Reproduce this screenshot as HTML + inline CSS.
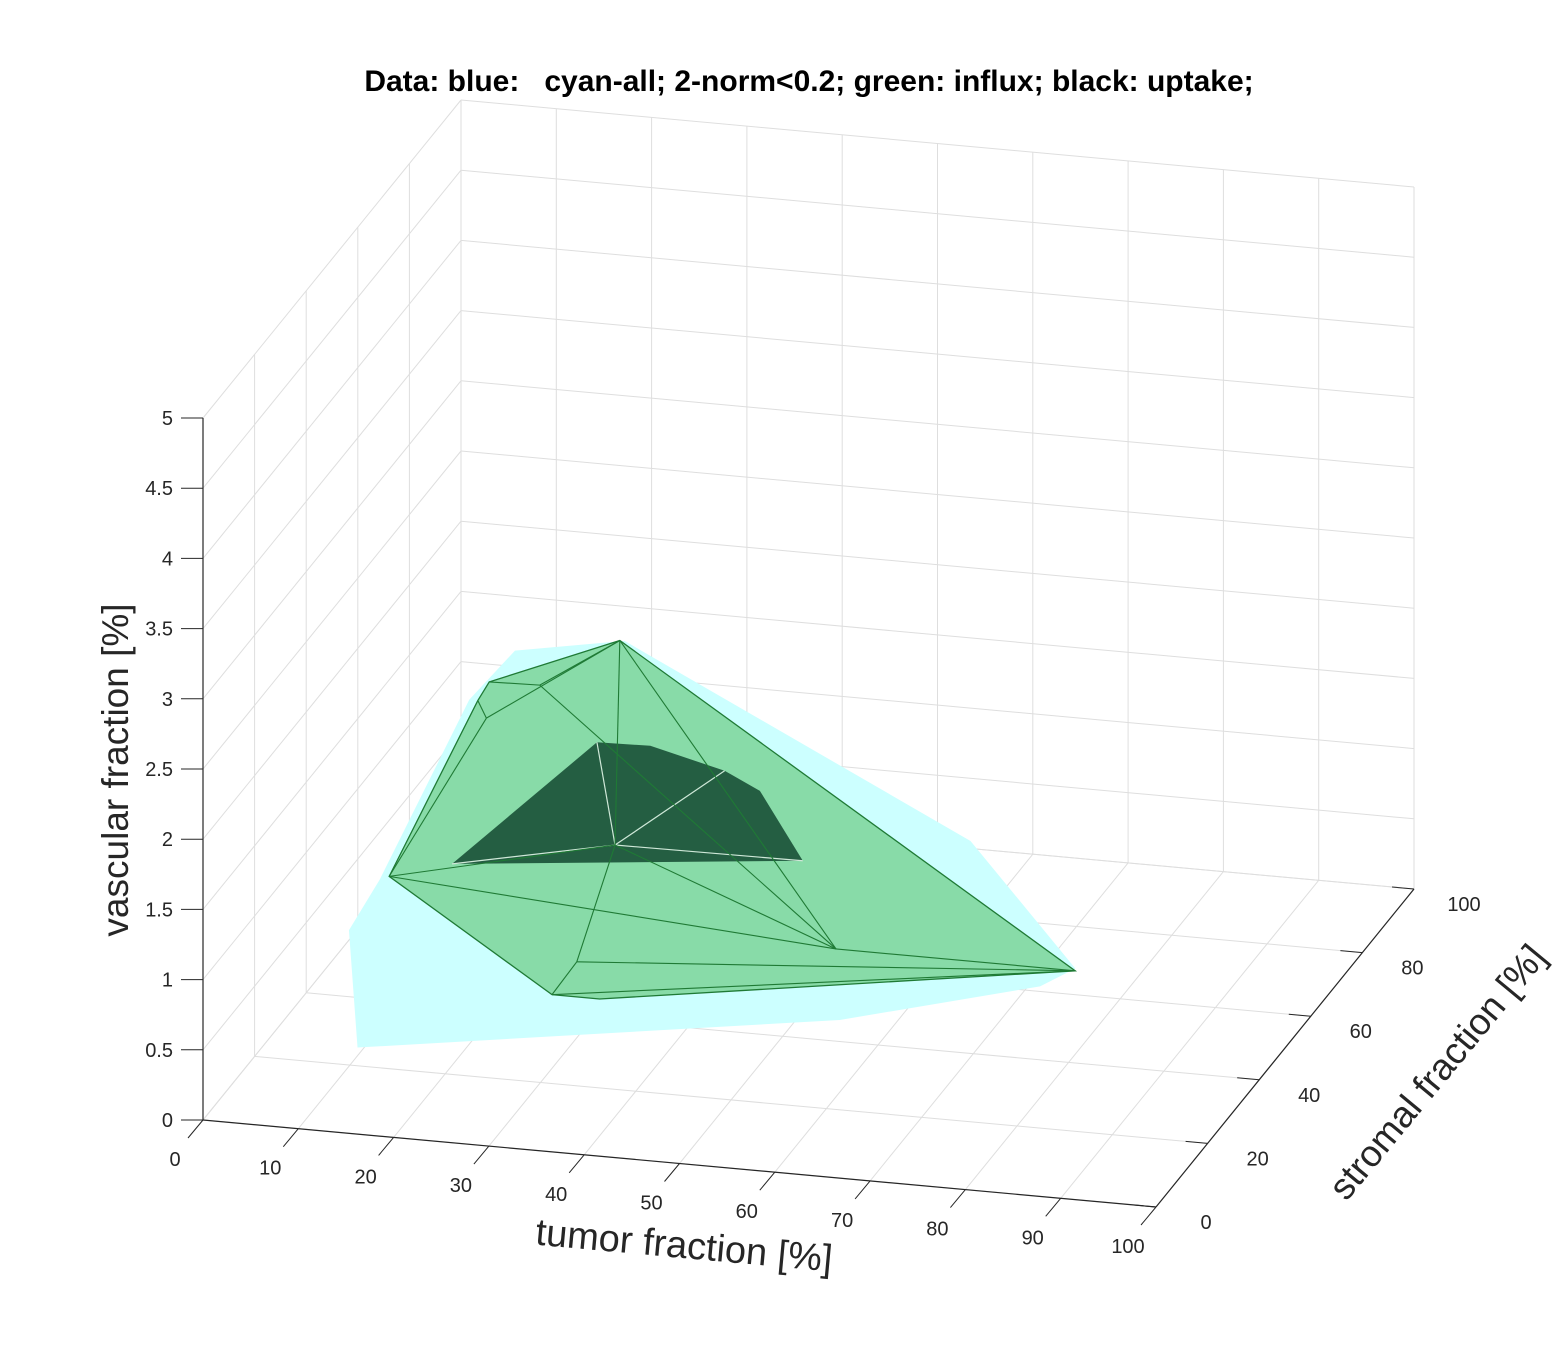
<!DOCTYPE html>
<html><head><meta charset="utf-8"><style>
html,body{margin:0;padding:0;background:#fff;}
svg{display:block;font-family:"Liberation Sans",sans-serif;}
</style></head><body>
<svg id="chart" width="1563" height="1354" viewBox="0 0 1563 1354" xmlns="http://www.w3.org/2000/svg">
<text x="809" y="91" text-anchor="middle" font-size="30" font-weight="bold" fill="#000" style="white-space:pre" xml:space="preserve">Data: blue:   cyan-all; 2-norm&lt;0.2; green: influx; black: uptake;</text>
<g id="grid"></g><g id="shapes"></g><g id="axes"></g>
<text x="683" y="1258" text-anchor="middle" font-size="38" fill="#262626" transform="rotate(5.2 683 1258)">tumor fraction [%]</text>
<text x="128" y="770" text-anchor="middle" font-size="37" fill="#262626" transform="rotate(-90 128 770)">vascular fraction [%]</text>
<text x="1447" y="1080" text-anchor="middle" font-size="37" fill="#262626" transform="rotate(-50.5 1447 1080)">stromal fraction [%]</text>
</svg>
<script>
const xTicks=[0,10,20,30,40,50,60,70,80,90,100];
const yTicks=[0,20,40,60,80,100];
const zTicks=[0,0.5,1,1.5,2,2.5,3,3.5,4,4.5,5];
const zTickLabels=["0","0.5","1","1.5","2","2.5","3","3.5","4","4.5","5"];
// cyan hull (tumor, stromal, vascular)
const cyanTumor=[19.2,30.7,67.0,78.0,74.3,61.4,10.8,9.9,5.0,14.4];
const cyanStromal=[50,50,50,50,50,20,20,20,50,50];
const cyanVascular=[2.33,2.47,1.27,0.43,0.28,0.64,0.13,0.96,0.61,1.95];
// green hull vertices: A,B,C,D,E,F,G,H,I,P,J,K
const greenTumor=[30.2,16.5,15.3,6.0,28.5,33.5,83.4,58.3,31.1,29.7,21.8,16.2];
const greenStromal=[50,50,50,50,30,30,30,30,30,50,50,50];
const greenVascular=[2.47,2.09,1.95,0.64,0.39,0.39,0.90,0.90,0.64,1.01,2.10,1.83];
const greenOutline=[0,1,2,3,4,5,6];
const greenEdges=[[0,10],[10,1],[0,9],[0,11],[11,3],[2,11],[9,3],[9,8],[9,7],[7,6],[3,7],[8,4],[8,6],[0,7],[10,7],[4,6]];
// dark uptake hull
const darkTumor=[27.8,33.4,41.2,44.9,49.4,12.6];
const darkStromal=[50,50,50,50,50,50];
const darkVascular=[1.73,1.74,1.61,1.49,1.02,0.77];
const darkCenter=[29.7,50,1.01];

const O=[203,1120],XV=[953,87],YV=[258,-318],ZH=702;
function P(x,y,z){return [O[0]+x/100*XV[0]+y/100*YV[0], O[1]+x/100*XV[1]+y/100*YV[1]-z/5*ZH];}
const NS="http://www.w3.org/2000/svg";
function mk(g,tag,at){const e=document.createElementNS(NS,tag);for(const k in at)e.setAttribute(k,at[k]);document.getElementById(g).appendChild(e);return e;}
function line(g,a,b,st,w){return mk(g,'line',{x1:a[0],y1:a[1],x2:b[0],y2:b[1],stroke:st,'stroke-width':w});}
const gc='#dedede';
for(const x of xTicks){let l=line('grid',P(x,0,0),P(x,100,0),gc,1);
 l=line('grid',P(x,100,0),P(x,100,5),gc,1);}
for(const y of yTicks){let l=line('grid',P(0,y,0),P(100,y,0),gc,1);
 l=line('grid',P(0,y,0),P(0,y,5),gc,1);}
for(const z of zTicks){let l=line('grid',P(0,0,z),P(0,100,z),gc,1);
 l=line('grid',P(0,100,z),P(100,100,z),gc,1);}
function pts(T,S,V,idx){return (idx||T.map((_,i)=>i)).map(i=>P(T[i],S[i],V[i]).join(',')).join(' ');}
let c=mk('shapes','polygon',{points:pts(cyanTumor,cyanStromal,cyanVascular),fill:'#ccffff'});


let g=mk('shapes','polygon',{points:pts(greenTumor,greenStromal,greenVascular,greenOutline),fill:'#88dba8',stroke:'#1f7a35','stroke-width':1.3});


let d=mk('shapes','polygon',{points:pts(darkTumor,darkStromal,darkVascular),fill:'#245e42'});


const cp=P(...darkCenter);
for(const i of [0,2,4,5]){let l=line('shapes',cp,P(darkTumor[i],darkStromal[i],darkVascular[i]),'#cfe8d8',1.2);}
for(const [a,b] of greenEdges){let l=line('shapes',P(greenTumor[a],greenStromal[a],greenVascular[a]),P(greenTumor[b],greenStromal[b],greenVascular[b]),'#1f7a35',1.1);}
const ac='#262626';
let a=line('axes',P(0,0,0),P(100,0,0),ac,1.2);
a=line('axes',P(100,0,0),P(100,100,0),ac,1.2);
a=line('axes',P(0,0,0),P(0,0,5),ac,1.2);
function txt(x,y,s,anchor,nm){const t=mk('axes','text',{x:x,y:y,'font-size':20,fill:ac,'text-anchor':anchor});t.textContent=s;}
for(const x of xTicks){const p=P(x,0,0);let l=line('axes',p,[p[0]-15,p[1]+18],ac,1);
 txt(p[0]-28,p[1]+46,String(x),'middle','x-tick-label');}
for(const y of yTicks){const p=P(100,y,0);let l=line('axes',p,[p[0]-22,p[1]-2],ac,1);
 txt(p[0]+50,p[1]+22,String(y),'middle','y-tick-label');}
zTicks.forEach((z,i)=>{const p=P(0,0,z);let l=line('axes',p,[p[0]-22,p[1]],ac,1);
 txt(p[0]-30,p[1]+7,zTickLabels[i],'end','z-tick-label');});
</script>
</body></html>
